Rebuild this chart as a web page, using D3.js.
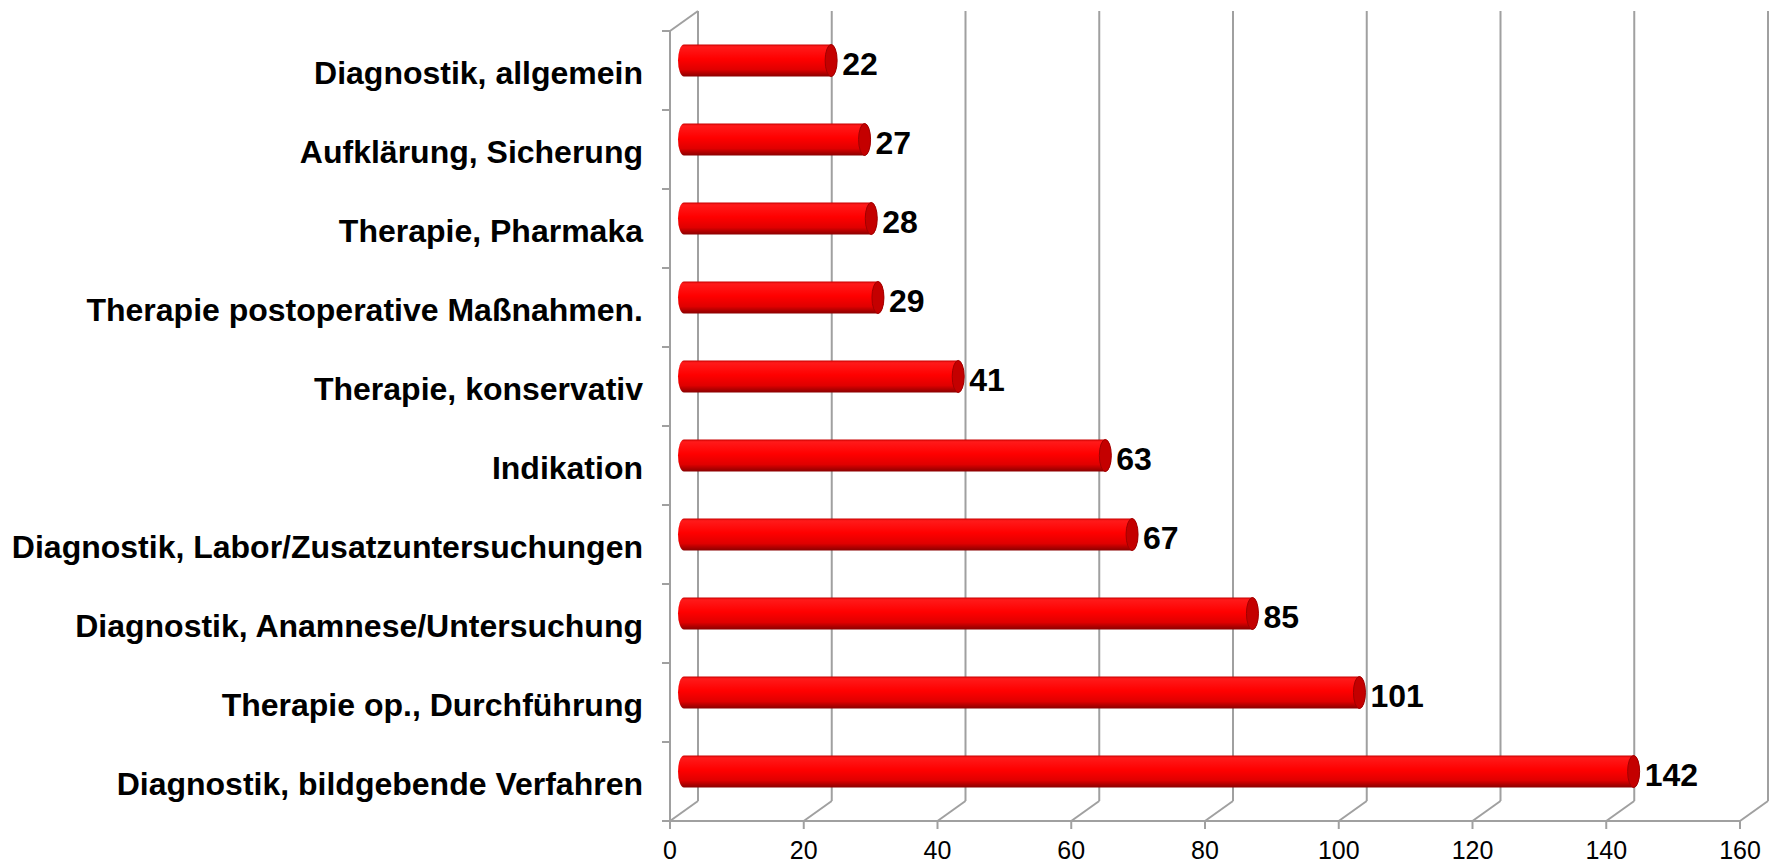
<!DOCTYPE html>
<html>
<head>
<meta charset="utf-8">
<script src="https://cdn.jsdelivr.net/npm/d3@7"></script>
<style>
  body { margin: 0; background: #fff; }
  text { font-family: "Liberation Sans", Arial, sans-serif; }
</style>
</head>
<body>
<svg id="chart" width="1773" height="865"></svg>
<script>
// categories, top to bottom
var categories = [
  "Diagnostik, allgemein",
  "Aufklärung, Sicherung",
  "Therapie, Pharmaka",
  "Therapie postoperative Maßnahmen.",
  "Therapie, konservativ",
  "Indikation",
  "Diagnostik, Labor/Zusatzuntersuchungen",
  "Diagnostik, Anamnese/Untersuchung",
  "Therapie op., Durchführung",
  "Diagnostik, bildgebende Verfahren"
];
var values = [22, 27, 28, 29, 41, 63, 67, 85, 101, 142];
var xTicks = [0, 20, 40, 60, 80, 100, 120, 140, 160];

var svg = d3.select("#chart");

// 3d depth of the chart box
var dx = 28, dy = -20;
var gridColor = "#a0a0a0";

var x = d3.scaleLinear().domain([0, 160]).range([670, 1740]);
var y = d3.scaleBand().domain(categories).range([31, 821]);

var defs = svg.append("defs");
var grad = defs.append("linearGradient")
    .attr("id", "cyl")
    .attr("x1", 0).attr("y1", 0).attr("x2", 0).attr("y2", 1);
grad.append("stop").attr("offset", 0).attr("stop-color", "#c80000");
grad.append("stop").attr("offset", 0.07).attr("stop-color", "#ff1a1a");
grad.append("stop").attr("offset", 0.45).attr("stop-color", "#ff0000");
grad.append("stop").attr("offset", 0.78).attr("stop-color", "#e00000");
grad.append("stop").attr("offset", 1).attr("stop-color", "#8a0000");

var grid = svg.append("g").attr("stroke", gridColor).attr("stroke-width", 2).attr("fill", "none");

// back wall verticals
grid.selectAll(".back")
  .data(xTicks)
  .enter().append("line")
    .attr("x1", function(d) { return x(d) + dx; })
    .attr("x2", function(d) { return x(d) + dx; })
    .attr("y1", y.range()[0] + dy)
    .attr("y2", y.range()[1] + dy);

// floor diagonals
grid.selectAll(".floor")
  .data(xTicks)
  .enter().append("line")
    .attr("x1", function(d) { return x(d); })
    .attr("y1", y.range()[1])
    .attr("x2", function(d) { return x(d) + dx; })
    .attr("y2", y.range()[1] + dy);

// front baseline and left axis
grid.append("line")
    .attr("x1", x(0)).attr("x2", x(160))
    .attr("y1", y.range()[1]).attr("y2", y.range()[1]);
grid.append("line")
    .attr("x1", x(0)).attr("x2", x(0))
    .attr("y1", y.range()[0]).attr("y2", y.range()[1]);
grid.append("line")
    .attr("x1", x(0)).attr("y1", y.range()[0])
    .attr("x2", x(0) + dx).attr("y2", y.range()[0] + dy);

// tick marks
var bounds = d3.range(categories.length + 1).map(function(i) { return y.range()[0] + i * y.step(); });
grid.selectAll(".ytick")
  .data(bounds)
  .enter().append("line")
    .attr("x1", x(0) - 8).attr("x2", x(0))
    .attr("y1", function(d) { return d; })
    .attr("y2", function(d) { return d; });
grid.selectAll(".xtick")
  .data(xTicks)
  .enter().append("line")
    .attr("x1", function(d) { return x(d); })
    .attr("x2", function(d) { return x(d); })
    .attr("y1", y.range()[1])
    .attr("y2", y.range()[1] + 8);

// x tick labels
svg.append("g").selectAll("text")
  .data(xTicks)
  .enter().append("text")
    .attr("x", function(d) { return x(d); })
    .attr("y", 850)
    .attr("dy", "0.35em")
    .attr("text-anchor", "middle")
    .attr("font-size", 25)
    .attr("fill", "#000")
    .text(function(d) { return d; });

// category labels
svg.append("g").selectAll("text")
  .data(categories)
  .enter().append("text")
    .attr("x", 643)
    .attr("y", function(d) { return y(d) + y.bandwidth() / 2 + 2; })
    .attr("dy", "0.35em")
    .attr("text-anchor", "end")
    .attr("font-size", 32)
    .attr("font-weight", "bold")
    .attr("fill", "#000")
    .text(function(d) { return d; });

// cylinders
var rx = 6, ry = 16;
var bars = svg.append("g").selectAll("g")
  .data(values)
  .enter().append("g")
    .attr("transform", function(d, i) {
      return "translate(0," + (y(categories[i]) + y.bandwidth() / 2 + dy / 2) + ")";
    });

bars.append("path")
    .attr("fill", "url(#cyl)")
    .attr("d", function(d) {
      var x0 = x(0) + dx / 2, x1 = x(d) + dx / 2;
      return "M" + x0 + "," + (-ry) + "L" + x1 + "," + (-ry) +
        "A" + rx + "," + ry + " 0 0 1 " + x1 + "," + ry +
        "L" + x0 + "," + ry +
        "A" + rx + "," + ry + " 0 0 1 " + x0 + "," + (-ry) + "Z";
    });

bars.append("ellipse")
    .attr("cx", function(d) { return x(d) + dx / 2; })
    .attr("cy", 0)
    .attr("rx", rx)
    .attr("ry", ry)
    .attr("fill", "#c40000")
    .attr("stroke", "#a00000")
    .attr("stroke-width", 1);

bars.append("text")
    .attr("x", function(d) { return x(d) + dx / 2 + 11; })
    .attr("y", 3)
    .attr("dy", "0.35em")
    .attr("font-size", 32)
    .attr("font-weight", "bold")
    .attr("fill", "#000")
    .text(function(d) { return d; });
</script>
</body>
</html>
